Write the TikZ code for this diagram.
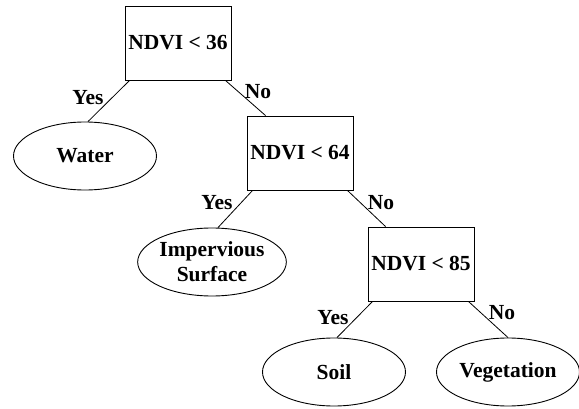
\documentclass[tikz,border=0pt]{standalone}
\usepackage{fontspec}
\setmainfont{Liberation Serif}
\usetikzlibrary{shapes.geometric}

\tikzset{
  test/.style={draw, line width=0.9pt, rectangle, minimum width=106, minimum height=74, inner sep=0pt},
  leaf/.style={draw, line width=0.9pt, ellipse, minimum width=143, minimum height=68, inner sep=0pt, align=center},
  lbl/.style={inner sep=0pt},
  edge/.style={line width=0.8pt}
}

\begin{document}
\begin{tikzpicture}[x=1pt,y=-1pt,font=\fontsize{21.5}{25}\selectfont\bfseries]
        \useasboundingbox (0,0) rectangle (579,409);
        % decision boxes
        \node[test] (t1) at (178,43) {NDVI < 36};
        \node[test] (t2) at (300,153) {NDVI < 64};
        \node[test] (t3) at (421,264) {NDVI < 85};
        % classes
        \node[leaf] (water) at (85,156) {Water};
        \node[leaf] (imperv) at (212,262) {Impervious\\Surface};
        \node[leaf] (soil) at (334,372) {Soil};
        \node[leaf] (veg) at (508,372) {Vegetation};
        % branches
        \draw[edge] ([xshift=5]t1.south west) -- ([xshift=3]water.north);
        \draw[edge] ([xshift=-6]t1.south east) -- ([xshift=19]t2.north west);
        \draw[edge] ([xshift=6]t2.south west) -- ([xshift=6]imperv.north);
        \draw[edge] ([xshift=-6]t2.south east) -- ([xshift=18]t3.north west);
        \draw[edge] ([xshift=5]t3.south west) -- ([xshift=3]soil.north);
        \draw[edge] ([xshift=-6]t3.south east) -- (veg.north);
        % branch labels
        \node[lbl] (yes1) at (88,98) {Yes};
        \node[lbl] (no1) at (258,92) {No};
        \node[lbl] (yes2) at (217,203) {Yes};
        \node[lbl] (no2) at (381,203) {No};
        \node[lbl] (yes3) at (333,318) {Yes};
        \node[lbl] (no3) at (502,313) {No};
\end{tikzpicture}
\end{document}
